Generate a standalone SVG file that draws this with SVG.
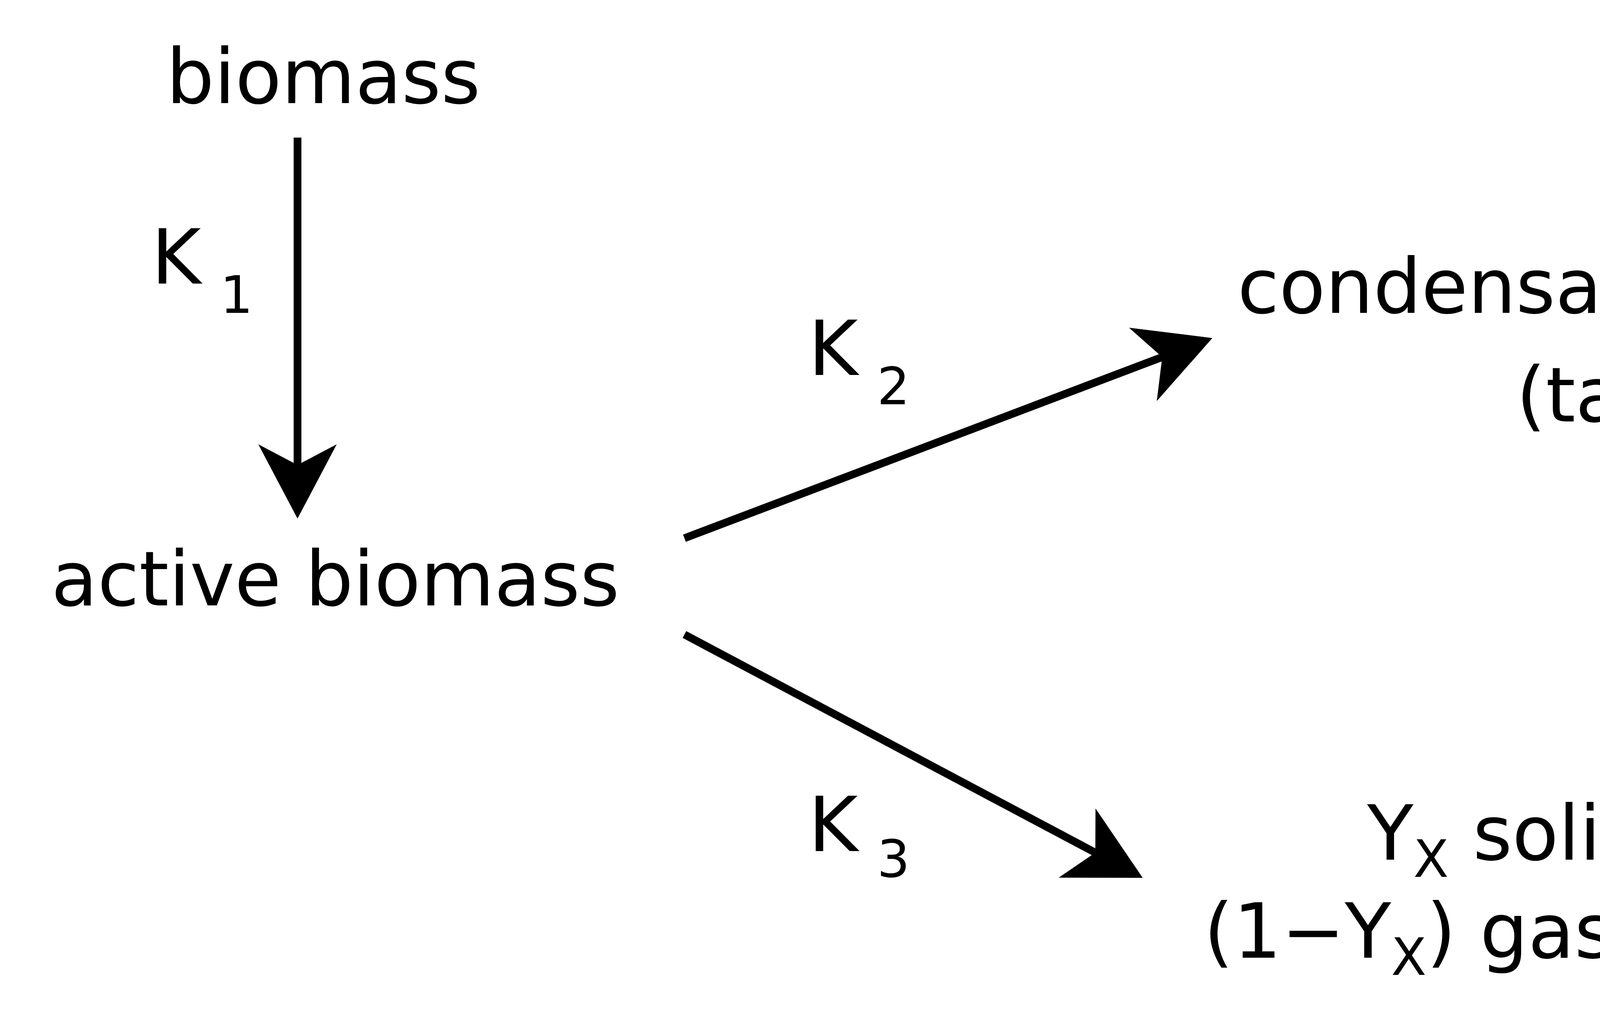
<svg xmlns="http://www.w3.org/2000/svg" width="6903" height="2591" viewBox="0 0 6903 2591">
<style>
text{font-family:"DejaVu Sans",Verdana,sans-serif;font-size:44px;fill:#000}
.sub{font-size:30px}
line{stroke:#000;stroke-width:4.5}
</style>
<defs>
<marker id="ah" markerUnits="userSpaceOnUse" markerWidth="60" markerHeight="60" viewBox="-40 -20 50 40" refX="-8" refY="0" orient="auto">
<path d="M0,0 L-36,-19 L-26,0 L-36,19 Z" fill="#000"/>
</marker>
</defs>
<rect width="6903" height="2591" fill="#fff"/>
<g transform="scale(4.4025)">
<g id="biomass"><text x="188" y="60" text-anchor="middle">biomass</text></g>
<g id="active"><text x="195" y="352" text-anchor="middle">active biomass</text></g>
<g id="tar"><text x="930" y="182" text-anchor="middle">condensable gases</text><text x="930" y="245" text-anchor="middle">(tar)</text></g>
<g id="gasmix"><text x="1401" y="338" text-anchor="middle">gas mixture</text></g>
<g id="char"><text x="795" y="500">Y<tspan class="sub" dy="10">X</tspan><tspan dy="-10" dx="14">solid char</tspan></text>
<text x="700" y="557">(1−Y<tspan class="sub" dy="10">X</tspan><tspan dy="-10">) gas mixture</tspan></text></g>
<g id="connectors">
<line x1="173" y1="80" x2="173" y2="292" marker-end="url(#ah)"/>
<line x1="398" y1="313" x2="696" y2="200" marker-end="url(#ah)"/>
<line x1="1177" y1="201" x2="1376" y2="273" marker-end="url(#ah)"/>
<line x1="398" y1="369" x2="656" y2="506" marker-end="url(#ah)"/>
<text x="88" y="165">K</text><text class="sub" x="128" y="182">1</text>
<text x="470" y="218">K</text><text class="sub" x="510" y="235">2</text>
<text x="470" y="495">K</text><text class="sub" x="510" y="510">3</text>
<text x="1260" y="195">K</text><text class="sub" x="1300" y="210">4</text>
</g>
</g>
</svg>
